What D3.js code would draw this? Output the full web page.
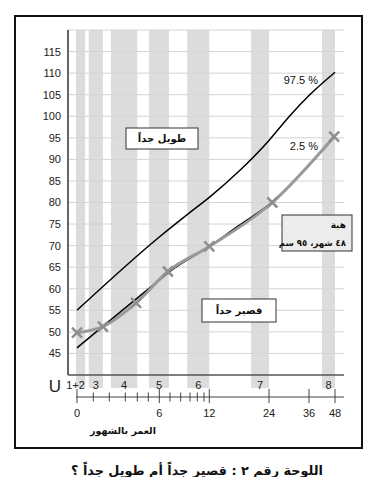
<!DOCTYPE html>
<html><head><meta charset="utf-8">
<script src="https://cdn.jsdelivr.net/npm/d3@7"></script>
<style>body{margin:0;background:#fff}svg{display:block}</style>
</head><body>
<script>
// ---- data ----
const uLabels = ["1+2", "3", "4", "5", "6", "7", "8"];
const uStart = [-0.06, 0.72, 2.1, 5.06, 8.7, 20.4, 42];
const uEnd = [0.5, 1.6, 4.0, 6.9, 12, 24, 48];
const ageTicks = [0, 1, 2, 3, 4, 5, 6, 7, 8, 9, 10, 11, 12, 24, 36, 48];
const ageLabels = [0, 6, 12, 24, 36, 48];
const heightTicks = [45, 50, 55, 60, 65, 70, 75, 80, 85, 90, 95, 100, 105, 110, 115];
const gridValues = [45, 50, 55, 60, 65, 70, 75, 80, 85, 90, 95, 100, 105, 110, 115, 120];
const p975Ages = [0, 6, 9, 12, 18, 24, 30, 36, 48];
const p975Vals = [55, 72, 77.7, 81.2, 87.3, 94.4, 99.9, 104.8, 110.2];
const p25Ages = [0, 6, 7, 12, 18, 24, 36, 48];
const p25Vals = [46.3, 62, 64, 69.8, 74.7, 79.5, 88.6, 95.3];
const childAges = [0, 1.6, 3.9, 6.8, 12, 25, 47.6];
const childVals = [49.8, 51.2, 56.7, 64, 69.8, 80, 95.3];
const ageTitle = "العمر بالشهور";
const tallLabel = "طويل جداً";
const shortLabel = "قصير جداً";
const childName = "هبة";
const childNote = "٤٨ شهر، ٩٥ سم";
const caption = "اللوحة رقم ٢ : قصير جداً أم طويل جداً ؟";

// ---- layout ----
const W = 377, H = 477;
const pL = 68, pR = 344, pT = 30, pB = 375;
const axisStart = 77;
// pixel offsets of each age tick along the hand-drawn age axis
const ageOffsets = [0, 16.3, 32.3, 48.3, 60.3, 71.3, 82.3, 93, 103.7, 113, 120.3, 127, 132.3, 192, 232, 258];

const x = d3.scaleLinear().domain(ageTicks).range(ageOffsets.map(o => axisStart + o));
const y = d3.scaleLinear().domain([40, 120]).range([pB, pT]);

const svg = d3.select("body").append("svg").attr("width", W).attr("height", H);
const numFont = "Liberation Sans, Arial, sans-serif";
const arFont = "DejaVu Sans, sans-serif";

function arText(xPos, yPos, str, size, anchor) {
  return svg.append("text").attr("x", xPos).attr("y", yPos).attr("dy", "0.36em")
    .attr("text-anchor", anchor).attr("font-family", arFont).attr("font-size", size)
    .attr("font-weight", "bold").attr("fill", "#111").text(str);
}

// frame
svg.append("rect").attr("x", 15).attr("y", 16).attr("width", 347).attr("height", 432)
  .attr("fill", "none").attr("stroke", "#111").attr("stroke-width", 2);

// bands
svg.append("g").selectAll("rect").data(uLabels).join("rect")
  .attr("x", (d, i) => x(uStart[i]))
  .attr("width", (d, i) => x(uEnd[i]) - x(uStart[i]))
  .attr("y", pT).attr("height", 388 - pT)
  .attr("fill", "#dcdcdc");

// grid lines
svg.append("g").selectAll("line").data(gridValues).join("line")
  .attr("x1", pL).attr("x2", pR)
  .attr("y1", d => y(d)).attr("y2", d => y(d))
  .attr("stroke", "#d4d4d4").attr("stroke-width", 1);

// y axis line and baseline
svg.append("line").attr("x1", pL).attr("x2", pL).attr("y1", pT).attr("y2", pB)
  .attr("stroke", "#666").attr("stroke-width", 2);
svg.append("line").attr("x1", pL).attr("x2", pR).attr("y1", pB).attr("y2", pB)
  .attr("stroke", "#555").attr("stroke-width", 1.5);

// y labels
svg.append("g").selectAll("text").data(heightTicks).join("text")
  .attr("x", 61).attr("y", d => y(d)).attr("dy", "0.36em")
  .attr("text-anchor", "end").attr("font-family", numFont).attr("font-size", 11)
  .attr("fill", "#222").text(d => d);

// U labels
svg.append("text").attr("x", 55).attr("y", 392).attr("text-anchor", "middle")
  .attr("font-family", numFont).attr("font-size", 17).attr("fill", "#222").text("U");
svg.append("g").selectAll("text").data(uLabels).join("text")
  .attr("x", (d, i) => (x(uStart[i]) + x(uEnd[i])) / 2 - (i === 0 ? 5 : 0))
  .attr("y", 385).attr("dy", "0.36em").attr("text-anchor", "middle")
  .attr("font-family", numFont).attr("font-size", 11).attr("fill", "#222").text(d => d);

// age axis
const ageY = 397;
svg.append("line").attr("x1", x(0) - 1).attr("x2", pR).attr("y1", ageY).attr("y2", ageY)
  .attr("stroke", "#444").attr("stroke-width", 1);
svg.append("g").selectAll("line").data(ageTicks).join("line")
  .attr("x1", d => x(d)).attr("x2", d => x(d))
  .attr("y1", d => ageLabels.includes(d) ? 389 : 392.5)
  .attr("y2", d => ageLabels.includes(d) ? 403 : 401.5)
  .attr("stroke", "#444").attr("stroke-width", 1);
svg.append("g").selectAll("text").data(ageLabels).join("text")
  .attr("x", d => x(d)).attr("y", 413).attr("dy", "0.36em").attr("text-anchor", "middle")
  .attr("font-family", numFont).attr("font-size", 11).attr("fill", "#222").text(d => d);
arText(123, 431, ageTitle, 9.5, "middle");

// curves
const line = d3.line().x(d => x(d[0])).y(d => y(d[1])).curve(d3.curveMonotoneX);
svg.append("path").attr("d", line(p975Ages.map((a, i) => [a, p975Vals[i]])))
  .attr("fill", "none").attr("stroke", "#000").attr("stroke-width", 1.5);
svg.append("path").attr("d", line(p25Ages.map((a, i) => [a, p25Vals[i]])))
  .attr("fill", "none").attr("stroke", "#000").attr("stroke-width", 1.5);
const child = childAges.map((a, i) => [a, childVals[i]]);
svg.append("path").attr("d", line(child))
  .attr("fill", "none").attr("stroke", "#9a9a9a").attr("stroke-width", 3);
const m = 5;
svg.append("g").selectAll("path").data(child).join("path")
  .attr("d", d => `M${x(d[0]) - m},${y(d[1]) - m}L${x(d[0]) + m},${y(d[1]) + m}M${x(d[0]) - m},${y(d[1]) + m}L${x(d[0]) + m},${y(d[1]) - m}`)
  .attr("stroke", "#8f8f8f").attr("stroke-width", 2.5).attr("fill", "none");

// percentile labels
svg.append("text").attr("x", 318).attr("y", 80).attr("dy", "0.36em").attr("text-anchor", "end")
  .attr("font-family", numFont).attr("font-size", 11).attr("fill", "#111").text("97.5 %");
svg.append("text").attr("x", 318).attr("y", 146).attr("dy", "0.36em").attr("text-anchor", "end")
  .attr("font-family", numFont).attr("font-size", 11).attr("fill", "#111").text("2.5 %");

// boxes
function box(x0, y0, w, h, fill) {
  svg.append("rect").attr("x", x0).attr("y", y0).attr("width", w).attr("height", h)
    .attr("fill", fill).attr("stroke", "#333").attr("stroke-width", 1);
}
box(126, 128, 72, 21, "#fff");
arText(162, 138.5, tallLabel, 10, "middle");
box(202, 299, 74, 23, "#fff");
arText(239, 310.5, shortLabel, 10, "middle");
box(282, 215, 70, 36, "#ececec");
arText(346, 225, childName, 9, "end");
arText(346, 243, childNote, 8.5, "end");

// caption
arText(197, 470, caption, 12.8, "middle");
</script>
</body></html>
